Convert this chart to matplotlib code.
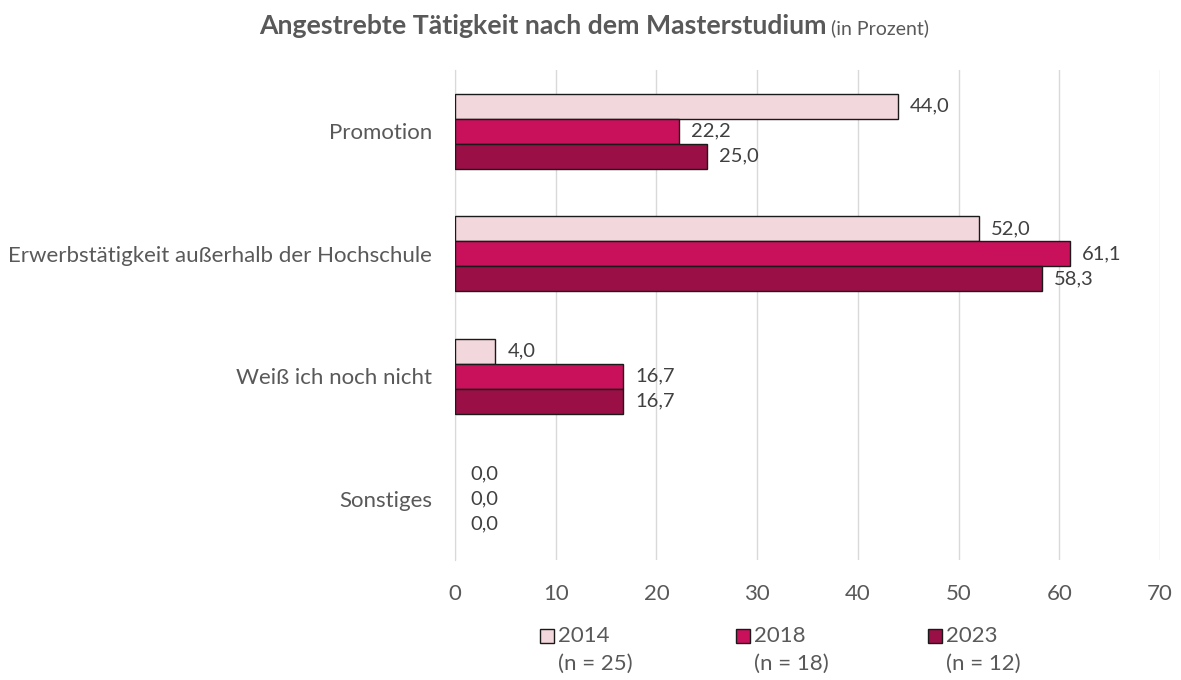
import matplotlib
matplotlib.use("Agg")
import matplotlib.pyplot as plt
from matplotlib.patches import Rectangle
import numpy as np

categories = ["Promotion", "Erwerbstätigkeit außerhalb der Hochschule", "Weiß ich noch nicht", "Sonstiges"]
years = ["2014", "2018", "2023"]
n_labels = ["(n = 25)", "(n = 18)", "(n = 12)"]
v2014 = [44.0, 52.0, 4.0, 0.0]
v2018 = [22.2, 61.1, 16.7, 0.0]
v2023 = [25.0, 58.3, 16.7, 0.0]
series = [v2014, v2018, v2023]
colors = ["#F2D7DC", "#C8115A", "#9A0F45"]
xticks = [0, 10, 20, 30, 40, 50, 60, 70]

plt.rcParams['font.family'] = ['Lato', 'DejaVu Sans']
txt = "#595959"
dl = "#404040"

W, H = 1181, 680
fig = plt.figure(figsize=(W/100, H/100), dpi=100)
ax = fig.add_axes([455/W, 1-560/H, (1160-455)/W, 490/H])

bh = 0.205
y = np.arange(len(categories))
for i, (vals, c) in enumerate(zip(series, colors)):
    pos = y + (i-1)*bh
    lws = [1.0 if v > 0 else 0.0 for v in vals]
    ax.barh(pos, vals, height=bh, color=c, edgecolor="#1a1a1a", linewidth=lws, zorder=3)
    for p, v in zip(pos, vals):
        ax.annotate(f"{v:.1f}".replace(".", ","), (v, p), xytext=(12 if v > 0 else 15, 0),
                    textcoords="offset pixels",
                    va="center", ha="left", fontsize=14.5, color=dl)

ax.set_ylim(3.5, -0.5)
ax.set_xlim(0, 70)
ax.set_xticks(xticks)
ax.set_xticklabels([str(t) for t in xticks], fontsize=16, color=txt)
ax.set_yticks(y)
ax.set_yticklabels(categories, fontsize=16, color=txt)
ax.tick_params(axis='both', length=0)
ax.tick_params(axis='x', pad=17)
ax.tick_params(axis='y', pad=16.5)
ax.grid(axis='x', color="#D9D9D9", linewidth=1, zorder=0)
for s in ["top", "right", "bottom"]:
    ax.spines[s].set_visible(False)
ax.spines["left"].set_color("#D9D9D9")
ax.spines["left"].set_zorder(1)

# Title
fig.canvas.draw()
r = fig.canvas.get_renderer()
t1 = fig.text(0, 1-26/H, "Angestrebte Tätigkeit nach dem Masterstudium", fontsize=19.2, fontweight="bold",
              color="#595959", va="center", ha="left")
t2 = fig.text(0, 1-26/H, " (in Prozent)", fontsize=14, color="#595959", va="center", ha="left")
w1 = t1.get_window_extent(r).width
w2 = t2.get_window_extent(r).width
x0 = 594 - (w1 + w2)/2
t1.set_x(x0/W)
t2.set_x((x0 + w1)/W)
t2.set_y(1-28/H)

# Legend
lx = [540, 736, 928]
for x, yr, nl, c in zip(lx, years, n_labels, colors):
    fig.patches.append(Rectangle((x/W, 1-643/H), 14/W, 14/H, transform=fig.transFigure,
                                 facecolor=c, edgecolor="#1a1a1a", linewidth=1))
    fig.text((x+18)/W, 1-636/H, yr, fontsize=16, color=txt, va="center", ha="left")
    fig.text((x+18)/W, 1-664/H, nl, fontsize=16, color=txt, va="center", ha="left")

fig.savefig("out.png", dpi=100)
